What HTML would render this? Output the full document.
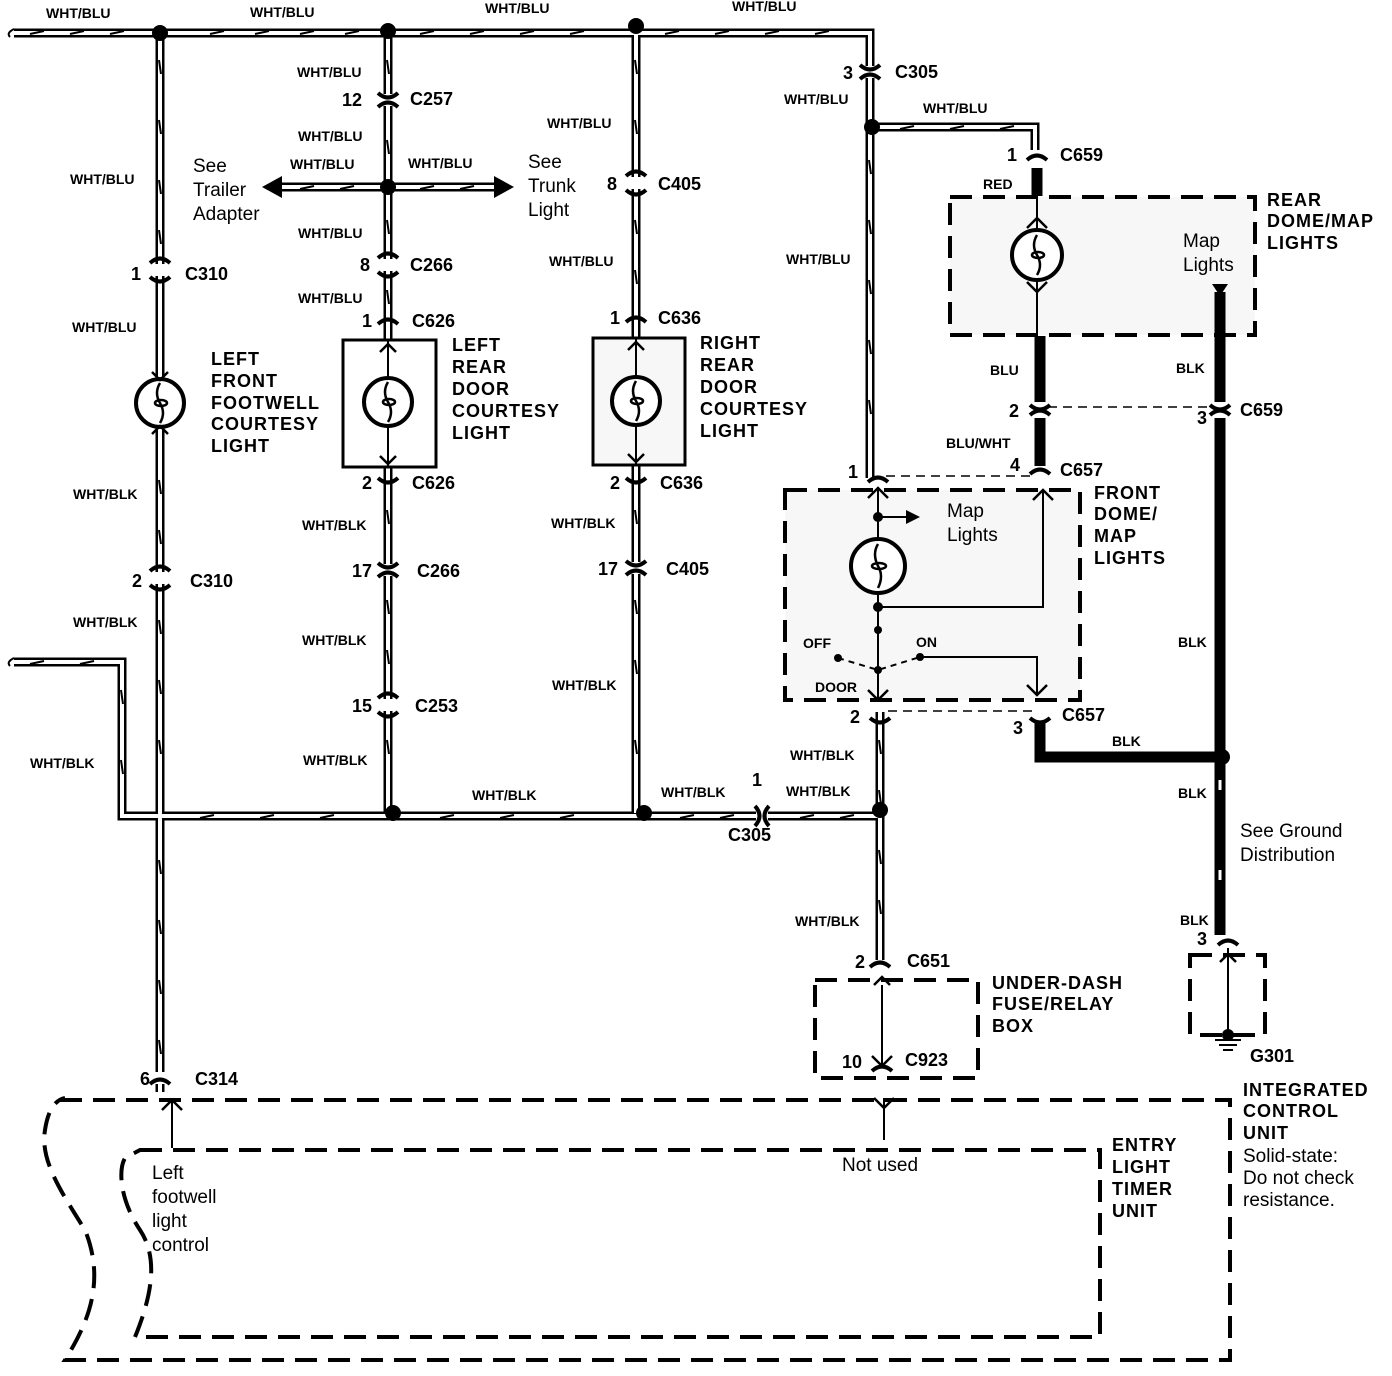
<!DOCTYPE html>
<html><head><meta charset="utf-8"><style>
html,body{margin:0;padding:0;background:#fff}
svg{display:block}
text{font-family:"Liberation Sans",Arial,sans-serif;fill:#000}
.b{font-weight:bold;font-size:18px}
.s{font-weight:bold;font-size:14px}
.n{font-size:19px}
</style></head><body>
<svg width="1392" height="1376" viewBox="0 0 1392 1376" xmlns="http://www.w3.org/2000/svg">
<defs>
<path id="w1" d="M14,33 H870 V478"/>
<path id="w2" d="M160,33 V1092"/>
<path id="w3" d="M388,30 V813"/>
<path id="w4" d="M636,26 V813"/>
<path id="w5" d="M280,187 H500"/>
<path id="w6" d="M872,127 H1035 V150"/>
<path id="w7" d="M14,662 H122 V816 H880"/>
<path id="w8" d="M880,712 V960"/>
</defs>
<rect x="950" y="197" width="305" height="138" fill="#f7f7f7"/>
<rect x="785" y="490" width="295" height="210" fill="#f7f7f7"/>
<g fill="none" stroke="#000" stroke-width="9">
<use href="#w1"/><use href="#w2"/><use href="#w3"/><use href="#w4"/><use href="#w5"/><use href="#w6"/><use href="#w7"/><use href="#w8"/>
</g>
<g fill="none" stroke="#fff" stroke-width="4">
<use href="#w1"/><use href="#w2"/><use href="#w3"/><use href="#w4"/><use href="#w5"/><use href="#w6"/><use href="#w7"/><use href="#w8"/>
</g>
<g fill="none" stroke="#000" stroke-width="2">
<path d="M14,29 q-8,4 -4,8 M14,658 q-8,4 -4,8"/>
</g>
<g stroke="#000" stroke-width="2" fill="none">
<path d="M30,34 l14,-3 M70,34 l14,-3 M110,34 l14,-3 M210,34 l14,-3 M255,34 l14,-3 M300,34 l14,-3 M345,34 l14,-3 M420,34 l14,-3 M470,34 l14,-3 M520,34 l14,-3 M570,34 l14,-3 M665,34 l14,-3 M715,34 l14,-3 M765,34 l14,-3 M815,34 l14,-3"/>
<path d="M159,60 l2,14 M159,120 l2,14 M159,180 l2,14 M159,230 l2,14 M159,480 l2,14 M159,530 l2,14 M159,620 l2,14 M159,680 l2,14 M159,740 l2,14 M159,860 l2,14 M159,920 l2,14 M159,980 l2,14 M159,1040 l2,14"/>
<path d="M387,60 l2,14 M387,140 l2,14 M387,220 l2,14 M387,290 l2,14 M387,510 l2,14 M387,600 l2,14 M387,650 l2,14 M387,740 l2,14"/>
<path d="M635,60 l2,14 M635,120 l2,14 M635,220 l2,14 M635,270 l2,14 M635,510 l2,14 M635,600 l2,14 M635,660 l2,14 M635,740 l2,14"/>
<path d="M869,160 l2,14 M869,220 l2,14 M869,280 l2,14 M869,340 l2,14 M869,400 l2,14 M879,740 l2,14 M879,790 l2,14 M879,850 l2,14 M879,900 l2,14"/>
<path d="M300,189 l14,-3 M340,189 l14,-3 M420,189 l14,-3 M460,189 l14,-3 M900,129 l14,-3 M950,129 l14,-3 M1000,129 l14,-3"/>
<path d="M30,664 l14,-3 M80,664 l14,-3 M121,690 l2,14 M121,760 l2,14 M200,818 l14,-3 M260,818 l14,-3 M320,818 l14,-3 M440,818 l14,-3 M500,818 l14,-3 M560,818 l14,-3 M680,818 l14,-3 M720,818 l14,-3 M800,818 l14,-3 M840,818 l14,-3"/>
</g>
<path d="M262,187 l20,-11 v22 z" fill="#000"/>
<path d="M514,187 l-20,-11 v22 z" fill="#000"/>
<rect x="343" y="340" width="93" height="127" fill="#fff" stroke="#000" stroke-width="3"/>
<rect x="593" y="338" width="92" height="127" fill="#f7f7f7" stroke="#000" stroke-width="3"/>
<g stroke="#000" stroke-width="2">
<line x1="388" y1="340" x2="388" y2="467"/><line x1="636" y1="338" x2="636" y2="465"/>
</g>
<g fill="none" stroke="#000" stroke-width="11">
<path d="M1037,168 V196"/><path d="M1040,336 V402"/><path d="M1040,418 V466"/>
<path d="M1220,292 V402"/><path d="M1220,418 V935"/><path d="M1040,722 V757 H1220"/>
</g>
<g stroke="#fff" stroke-width="3"><line x1="1220" y1="780" x2="1220" y2="790"/><line x1="1220" y1="870" x2="1220" y2="880"/></g>
<g fill="none" stroke="#000" stroke-width="2">
<path d="M1037,196 V228 M1037,282 V336"/>
<path d="M1220,292 V335"/>
<path d="M878,488 V538 M878,594 V698"/>
<path d="M878,607 H1043 V490"/>
<path d="M878,517 H915"/>
<path d="M920,657 H1037 V695"/>
<path d="M882,985 V1065 M884,1098 V1140"/>
<path d="M172,1100 V1148"/>
<path d="M1228,948 V1035"/>
<path d="M1215,1040 h26 M1219,1045 h18 M1223,1050 h10"/>
</g>
<path d="M920,517 l-14,-7 v14 z" fill="#000"/>
<path d="M1212,284 h16 l-8,12 z" fill="#000"/>
<g fill="#000"><circle cx="878" cy="517" r="5"/><circle cx="878" cy="607" r="5"/><circle cx="878" cy="630" r="4"/><circle cx="878" cy="670" r="4"/><circle cx="838" cy="658" r="4"/><circle cx="920" cy="657" r="4"/></g>
<path d="M838,658 L878,670 L920,657" fill="none" stroke="#000" stroke-width="2" stroke-dasharray="6,5"/>
<g fill="none" stroke="#000" stroke-width="4" stroke-dasharray="22,11">
<rect x="950" y="197" width="305" height="138"/>
<rect x="785" y="490" width="295" height="210"/>
<rect x="815" y="980" width="163" height="98"/>
<rect x="1190" y="955" width="75" height="80"/>
<path d="M60,1100 H1230 V1360 H65 C90,1320 105,1280 85,1230 C60,1190 40,1160 45,1130 C48,1110 55,1100 65,1098"/>
<path d="M140,1150 H1100 V1337 H135 C150,1300 160,1260 140,1230 C120,1200 118,1170 125,1158 Z"/>
</g>
<g fill="none" stroke="#000" stroke-width="1.5" stroke-dasharray="9,6">
<path d="M1048,407 H1212"/><path d="M886,476 H1032"/><path d="M888,711 H1032"/>
</g>
<g fill="#fff" stroke="#000" stroke-width="4">
<circle cx="160" cy="403" r="24"/><circle cx="388" cy="402" r="24"/><circle cx="636" cy="401" r="24"/><circle cx="1037" cy="255" r="25"/><circle cx="878" cy="566" r="27"/>
</g>
<g fill="none" stroke="#000" stroke-width="2.5">
<path d="M160,383 q-6,10 0,20 q6,10 0,20 M155,403 a6,3 0 1 0 12,0 a6,3 0 1 0 -12,0 M152,372 l8,8 l8,-8 M152,434 l8,-8 l8,8"/>
<path d="M388,382 q-6,10 0,20 q6,10 0,20 M383,402 a6,3 0 1 0 12,0 a6,3 0 1 0 -12,0 M380,352 l8,-8 l8,8 M380,456 l8,8 l8,-8"/>
<path d="M636,381 q-6,10 0,20 q6,10 0,20 M631,401 a6,3 0 1 0 12,0 a6,3 0 1 0 -12,0 M628,350 l8,-8 l8,8 M628,454 l8,8 l8,-8"/>
<path d="M1037,235 q-6,10 0,20 q6,10 0,20 M1032,255 a6,3 0 1 0 12,0 a6,3 0 1 0 -12,0 M1027,228 l10,-10 l10,10 M1027,282 l10,10 l10,-10"/>
<path d="M878,544 q-6,10 0,22 q6,10 0,22 M872,566 a7,3 0 1 0 14,0 a7,3 0 1 0 -14,0"/>
<path d="M868,498 l10,-10 l10,10 M1033,500 l10,-10 l10,10 M868,690 l10,10 l10,-10 M1027,685 l10,10 l10,-10 M874,985 l8,-8 l8,8 M872,1056 l10,10 l10,-10 M162,1110 l10,-10 l10,10 M874,1098 l10,10 l10,-10 M1220,962 l8,-8 l8,8"/>
</g>
<g fill="#fff" stroke="none">
<rect x="150" y="264" width="20" height="12"/><rect x="150" y="572" width="20" height="12"/><rect x="150" y="1072" width="20" height="12"/>
<rect x="378" y="94" width="20" height="12"/><rect x="378" y="259" width="20" height="12"/><rect x="378" y="564" width="20" height="12"/><rect x="378" y="699" width="20" height="12"/>
<rect x="626" y="177" width="20" height="12"/><rect x="626" y="562" width="20" height="12"/>
<rect x="860" y="66" width="20" height="12"/><rect x="756" y="806" width="12" height="20"/>
</g>
<g fill="none" stroke="#000" stroke-width="4">
<path d="M150,263 q10,-9 20,0 M150,277 q10,9 20,0"/>
<path d="M150,571 q10,-9 20,0 M150,585 q10,9 20,0"/>
<path d="M150,1084 q10,-9 20,0"/>
<path d="M378,93 q10,9 20,0 M378,107 q10,-9 20,0"/>
<path d="M378,258 q10,-9 20,0 M378,272 q10,9 20,0"/>
<path d="M378,324 q10,-9 20,0"/><path d="M378,478 q10,9 20,0"/>
<path d="M378,563 q10,9 20,0 M378,577 q10,-9 20,0"/>
<path d="M378,698 q10,-9 20,0 M378,712 q10,9 20,0"/>
<path d="M626,176 q10,-9 20,0 M626,190 q10,9 20,0"/>
<path d="M626,322 q10,-9 20,0"/><path d="M626,478 q10,9 20,0"/>
<path d="M626,561 q10,9 20,0 M626,575 q10,-9 20,0"/>
<path d="M860,65 q10,9 20,0 M860,79 q10,-9 20,0"/>
<path d="M755,806 q9,10 0,20 M769,806 q-9,10 0,20"/>
<path d="M1027,160 q10,-9 20,0"/>
<path d="M1030,405 q10,9 20,0 M1030,415 q10,-9 20,0"/>
<path d="M1210,405 q10,9 20,0 M1210,415 q10,-9 20,0"/>
<path d="M868,482 q10,-9 20,0 M1030,474 q10,-9 20,0"/>
<path d="M870,718 q10,9 20,0 M1030,718 q10,9 20,0"/>
<path d="M870,967 q10,-9 20,0"/><path d="M872,1071 q10,-9 20,0"/>
<path d="M1218,945 q10,-9 20,0"/>
</g>
<g fill="#000"><circle cx="160" cy="33" r="8"/><circle cx="388" cy="31" r="8"/><circle cx="636" cy="26" r="8"/><circle cx="388" cy="187" r="8"/><circle cx="872" cy="127" r="8"/><circle cx="393" cy="813" r="8"/><circle cx="644" cy="813" r="8"/><circle cx="880" cy="810" r="8"/><circle cx="1222" cy="757" r="8"/><circle cx="1228" cy="1035" r="6"/></g>
<g class="s">
<text x="46" y="18">WHT/BLU</text><text x="250" y="17">WHT/BLU</text><text x="485" y="13">WHT/BLU</text><text x="732" y="11">WHT/BLU</text>
<text x="297" y="77">WHT/BLU</text><text x="298" y="141">WHT/BLU</text><text x="290" y="169">WHT/BLU</text><text x="408" y="168">WHT/BLU</text>
<text x="298" y="238">WHT/BLU</text><text x="298" y="303">WHT/BLU</text><text x="70" y="184">WHT/BLU</text><text x="72" y="332">WHT/BLU</text>
<text x="547" y="128">WHT/BLU</text><text x="549" y="266">WHT/BLU</text><text x="784" y="104">WHT/BLU</text><text x="923" y="113">WHT/BLU</text><text x="786" y="264">WHT/BLU</text>
<text x="73" y="499">WHT/BLK</text><text x="73" y="627">WHT/BLK</text><text x="30" y="768">WHT/BLK</text>
<text x="302" y="530">WHT/BLK</text><text x="302" y="645">WHT/BLK</text><text x="303" y="765">WHT/BLK</text>
<text x="551" y="528">WHT/BLK</text><text x="552" y="690">WHT/BLK</text>
<text x="472" y="800">WHT/BLK</text><text x="661" y="797">WHT/BLK</text><text x="786" y="796">WHT/BLK</text>
<text x="790" y="760">WHT/BLK</text><text x="795" y="926">WHT/BLK</text>
<text x="983" y="189">RED</text><text x="990" y="375">BLU</text><text x="1176" y="373">BLK</text><text x="946" y="448">BLU/WHT</text>
<text x="1178" y="647">BLK</text><text x="1112" y="746">BLK</text><text x="1178" y="798">BLK</text><text x="1180" y="925">BLK</text>
<text x="803" y="648">OFF</text><text x="916" y="647">ON</text><text x="815" y="692">DOOR</text>
</g>
<g class="b">
<text x="843" y="79">3</text><text x="895" y="78">C305</text>
<text x="342" y="106">12</text><text x="410" y="105">C257</text>
<text x="360" y="271">8</text><text x="410" y="271">C266</text>
<text x="362" y="327">1</text><text x="412" y="327">C626</text>
<text x="362" y="489">2</text><text x="412" y="489">C626</text>
<text x="352" y="577">17</text><text x="417" y="577">C266</text>
<text x="352" y="712">15</text><text x="415" y="712">C253</text>
<text x="607" y="190">8</text><text x="658" y="190">C405</text>
<text x="610" y="324">1</text><text x="658" y="324">C636</text>
<text x="610" y="489">2</text><text x="660" y="489">C636</text>
<text x="598" y="575">17</text><text x="666" y="575">C405</text>
<text x="131" y="280">1</text><text x="185" y="280">C310</text>
<text x="132" y="587">2</text><text x="190" y="587">C310</text>
<text x="140" y="1085">6</text><text x="195" y="1085">C314</text>
<text x="752" y="786">1</text><text x="728" y="841">C305</text>
<text x="1007" y="161">1</text><text x="1060" y="161">C659</text>
<text x="1009" y="417">2</text><text x="1197" y="424">3</text><text x="1240" y="416">C659</text>
<text x="848" y="478">1</text><text x="1010" y="471">4</text><text x="1060" y="476">C657</text>
<text x="850" y="723">2</text><text x="1013" y="734">3</text><text x="1062" y="721">C657</text>
<text x="855" y="968">2</text><text x="907" y="967">C651</text>
<text x="842" y="1068">10</text><text x="905" y="1066">C923</text>
<text x="1197" y="945">3</text><text x="1250" y="1062">G301</text>
</g>
<g class="b" style="letter-spacing:1px">
<text x="211" y="365">LEFT</text><text x="211" y="387">FRONT</text><text x="211" y="409">FOOTWELL</text><text x="211" y="430">COURTESY</text><text x="211" y="452">LIGHT</text>
<text x="452" y="351">LEFT</text><text x="452" y="373">REAR</text><text x="452" y="395">DOOR</text><text x="452" y="417">COURTESY</text><text x="452" y="439">LIGHT</text>
<text x="700" y="349">RIGHT</text><text x="700" y="371">REAR</text><text x="700" y="393">DOOR</text><text x="700" y="415">COURTESY</text><text x="700" y="437">LIGHT</text>
<text x="1267" y="206">REAR</text><text x="1267" y="227">DOME/MAP</text><text x="1267" y="249">LIGHTS</text>
<text x="1094" y="499">FRONT</text><text x="1094" y="520">DOME/</text><text x="1094" y="542">MAP</text><text x="1094" y="564">LIGHTS</text>
<text x="992" y="989">UNDER-DASH</text><text x="992" y="1010">FUSE/RELAY</text><text x="992" y="1032">BOX</text>
<text x="1243" y="1096">INTEGRATED</text><text x="1243" y="1117">CONTROL</text><text x="1243" y="1139">UNIT</text>
<text x="1112" y="1151">ENTRY</text><text x="1112" y="1173">LIGHT</text><text x="1112" y="1195">TIMER</text><text x="1112" y="1217">UNIT</text>
</g>
<g class="n">
<text x="193" y="172">See</text><text x="193" y="196">Trailer</text><text x="193" y="220">Adapter</text>
<text x="528" y="168">See</text><text x="528" y="192">Trunk</text><text x="528" y="216">Light</text>
<text x="1183" y="247">Map</text><text x="1183" y="271">Lights</text>
<text x="947" y="517">Map</text><text x="947" y="541">Lights</text>
<text x="1240" y="837">See Ground</text><text x="1240" y="861">Distribution</text>
<text x="842" y="1171">Not used</text>
<text x="1243" y="1162">Solid-state:</text><text x="1243" y="1184">Do not check</text><text x="1243" y="1206">resistance.</text>
<text x="152" y="1179">Left</text><text x="152" y="1203">footwell</text><text x="152" y="1227">light</text><text x="152" y="1251">control</text>
</g>
</svg>
</body></html>
